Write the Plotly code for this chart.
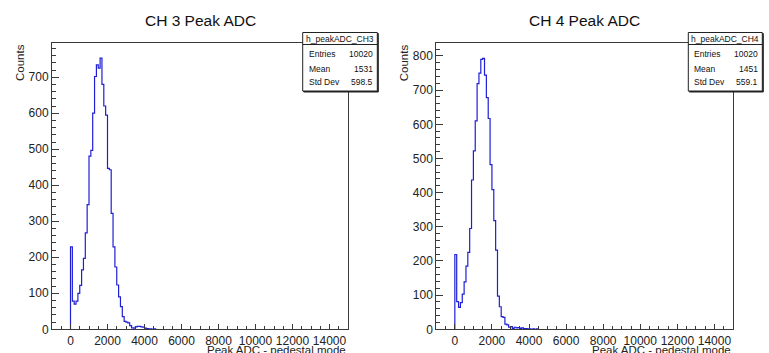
import plotly.graph_objects as go

# ---------------- data ----------------
bin_low = 0          # first non-empty bin lower edge (ADC)
bin_width = 100      # ADC per bin

ch3_counts = [229, 78, 70, 78, 100, 122, 165, 197, 268, 346,
              481, 497, 600, 702, 734, 725, 753, 680, 620, 595,
              447, 443, 322, 229, 173, 123, 90, 63, 35, 22,
              20, 18, 10, 4, 3, 7, 8, 8, 7, 6,
              3, 2, 1, 1, 0, 1]
ch4_counts = [219, 81, 64, 78, 103, 139, 185, 225, 295, 437,
              522, 610, 719, 750, 790, 793, 744, 678, 617, 482,
              409, 318, 232, 97, 66, 37, 35, 15, 13, 6,
              8, 3, 6, 4, 5, 3, 4, 2, 2, 1,
              1, 0, 1, 0, 1]

titles = ["CH 3 Peak ADC", "CH 4 Peak ADC"]
hist_names = ["h_peakADC_CH3", "h_peakADC_CH4"]
stat_labels = ["Entries", "Mean", "Std Dev"]
ch3_stats = ["10020", "1531", "598.5"]
ch4_stats = ["10020", "1451", "559.1"]
x_title = "Peak ADC - pedestal mode"
y_title = "Counts"
x_range = [-1000, 15000]
y_ranges = [[0, 795], [0, 838]]

# ---------------- layout helpers ----------------
W, H = 769, 353
def px(x):
    return x / W
def py(y):
    return 1 - y / H

FONT = "Liberation Sans, Arial, Helvetica, sans-serif"
LINE_BLUE = "rgb(30,30,215)"
FRAME = "#3a3a3a"

def step_xy(counts):
    xs = [bin_low]
    ys = [0]
    for i, c in enumerate(counts):
        xs.append(bin_low + i * bin_width)
        ys.append(c)
    xs.append(bin_low + len(counts) * bin_width)
    ys.append(0)
    return xs, ys

fig = go.Figure()

panels = [
    dict(counts=ch3_counts, stats=ch3_stats, x0=52, x1=348, box=(302.7, 377.3)),
    dict(counts=ch4_counts, stats=ch4_stats, x0=436.3, x1=733, box=(688.3, 762.3)),
]
y_top, y_bot = 43, 329.3

for k, p in enumerate(panels):
    xs, ys = step_xy(p["counts"])
    xa = "x" if k == 0 else "x2"
    ya = "y" if k == 0 else "y2"
    fig.add_trace(go.Scatter(x=xs, y=ys, mode="lines", line_shape="hv",
                             line=dict(color=LINE_BLUE, width=1.2),
                             xaxis=xa, yaxis=ya, showlegend=False,
                             hoverinfo="skip"))
    axis_common = dict(showline=True, linecolor=FRAME, linewidth=1, mirror=True,
                       showgrid=False, zeroline=False, ticks="inside",
                       tickcolor=FRAME, tickfont=dict(family=FONT, size=12, color="#222"))
    xkey = "xaxis" if k == 0 else "xaxis2"
    ykey = "yaxis" if k == 0 else "yaxis2"
    fig.layout[xkey] = dict(axis_common, domain=[px(p["x0"]), px(p["x1"])],
                            range=x_range, tick0=0, dtick=2000, ticklen=5,
                            tickformat="d", automargin=False,
                            minor=dict(dtick=500, tick0=0, ticklen=3, ticks="inside",
                                       tickcolor=FRAME, showgrid=False),
                            anchor=ya)
    fig.layout[ykey] = dict(axis_common, domain=[py(y_bot), py(y_top)],
                            range=y_ranges[k], tick0=0, dtick=100, ticklen=7,
                            tickformat="d", automargin=False,
                            minor=dict(dtick=20, tick0=0, ticklen=4, ticks="inside",
                                       tickcolor=FRAME, showgrid=False),
                            anchor=xa)

    # title
    cx = (p["x0"] + p["x1"]) / 2
    fig.add_annotation(text=titles[k], x=px(cx), y=py(20.7), xref="paper", yref="paper",
                       showarrow=False, xanchor="center", yanchor="middle",
                       font=dict(family=FONT, size=15.5, color="#111"))
    # y title
    fig.add_annotation(text=y_title, x=px(p["x0"] - 31.5), y=py(62.5), xref="paper", yref="paper",
                       showarrow=False, textangle=-90, xanchor="center", yanchor="middle",
                       font=dict(family=FONT, size=11.5, color="#222"))
    # x title
    fig.add_annotation(text=x_title, x=px(p["x1"]), y=py(349.5), xref="paper", yref="paper",
                       showarrow=False, xanchor="right", yanchor="middle",
                       font=dict(family=FONT, size=11.5, color="#222"))

    # stats box
    bx0, bx1 = p["box"]
    by0, by1, bdiv = 32.5, 91, 44.5
    fig.add_shape(type="rect", xref="paper", yref="paper",
                  x0=px(bx0 + 1), x1=px(bx1 + 1), y0=py(by1 + 1), y1=py(by0 + 1),
                  line=dict(color="#222", width=1), fillcolor="#222", layer="above")
    fig.add_shape(type="rect", xref="paper", yref="paper",
                  x0=px(bx0), x1=px(bx1), y0=py(by1), y1=py(by0),
                  line=dict(color="#222", width=1), fillcolor="white", layer="above")
    fig.add_shape(type="line", xref="paper", yref="paper",
                  x0=px(bx0), x1=px(bx1), y0=py(bdiv), y1=py(bdiv),
                  line=dict(color="#222", width=1), layer="above")
    fig.add_annotation(text=hist_names[k], x=px((bx0 + bx1) / 2), y=py(38.6),
                       xref="paper", yref="paper", showarrow=False,
                       xanchor="center", yanchor="middle",
                       font=dict(family=FONT, size=8.5, color="#111"))
    for j, (lab, val) in enumerate(zip(stat_labels, p["stats"])):
        yy = [54, 68.5, 82][j]
        fig.add_annotation(text=lab, x=px(bx0 + 4), y=py(yy), xref="paper", yref="paper",
                           showarrow=False, xanchor="left", yanchor="middle",
                           font=dict(family=FONT, size=8.5, color="#111"))
        fig.add_annotation(text=val, x=px(bx1 - 2), y=py(yy), xref="paper", yref="paper",
                           showarrow=False, xanchor="right", yanchor="middle",
                           font=dict(family=FONT, size=8.5, color="#111"))

fig.update_layout(width=W, height=H, margin=dict(l=0, r=0, t=0, b=0, pad=0),
                  paper_bgcolor="white", plot_bgcolor="white", showlegend=False)

fig.write_html("out.html",
               config={"displayModeBar": False},
               post_script=("document.documentElement.style.margin='0px';"
                            "document.documentElement.style.overflow='hidden';"
                            "document.body.style.margin='0px';"
                            "document.body.style.padding='0px';"
                            "document.body.style.overflow='hidden';"))
